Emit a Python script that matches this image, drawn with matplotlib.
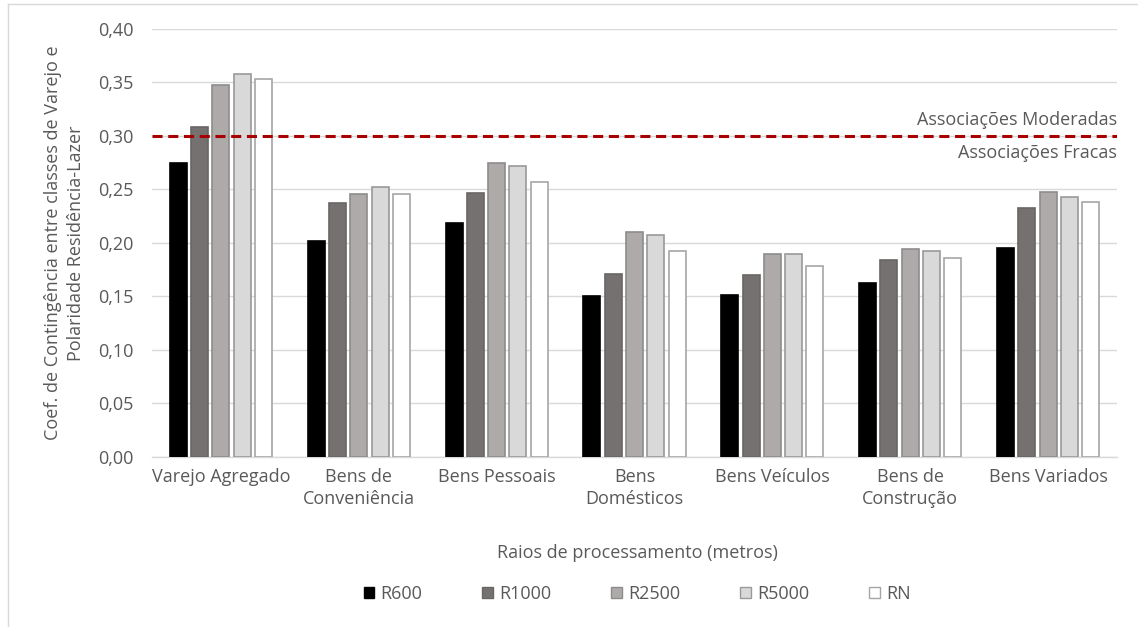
import matplotlib
matplotlib.use("Agg")
import matplotlib.pyplot as plt
from matplotlib.patches import Patch
from matplotlib.lines import Line2D
import numpy as np

plt.rcParams['font.family'] = ['Open Sans', 'DejaVu Sans']

categories = ["Varejo Agregado", "Bens de\nConveniência", "Bens Pessoais", "Bens\nDomésticos",
              "Bens Veículos", "Bens de\nConstrução", "Bens Variados"]
series_names = ["R600", "R1000", "R2500", "R5000", "RN"]
r600 = [0.275, 0.202, 0.219, 0.150, 0.151, 0.162, 0.195]
r1000 = [0.308, 0.237, 0.247, 0.171, 0.170, 0.184, 0.233]
r2500 = [0.348, 0.246, 0.275, 0.210, 0.190, 0.194, 0.248]
r5000 = [0.358, 0.252, 0.272, 0.207, 0.190, 0.192, 0.243]
rn = [0.353, 0.246, 0.257, 0.192, 0.178, 0.186, 0.238]
threshold = 0.30
y_ticks = [0.00, 0.05, 0.10, 0.15, 0.20, 0.25, 0.30, 0.35, 0.40]
y_tick_labels = ["0,00", "0,05", "0,10", "0,15", "0,20", "0,25", "0,30", "0,35", "0,40"]

series = [r600, r1000, r2500, r5000, rn]
fills = ["#000000", "#767171", "#AEAAAA", "#D9D9D9", "#FFFFFF"]
edges = ["#000000", "#6A6666", "#8C8C8C", "#999999", "#A6A6A6"]
text_color = "#595959"
fs = 13

W, H = 1138, 627
fig = plt.figure(figsize=(W / 100, H / 100), dpi=100)
ax = fig.add_axes([152 / W, 1 - 456.7 / H, (1117 - 152) / W, (456.7 - 29) / H])

x = np.arange(len(categories))
slot = 0.1545
bw = 0.123
for i, (vals, fc, ec) in enumerate(zip(series, fills, edges)):
    ax.bar(x + (i - 2) * slot, vals, width=bw, color=fc, edgecolor=ec,
           linewidth=1.2, zorder=3, label=series_names[i])

ax.set_xlim(-0.5, len(categories) - 0.5)
ax.set_ylim(0, 0.40)
ax.set_yticks(y_ticks)
ax.set_yticklabels(y_tick_labels)
ax.set_xticks(x)
ax.set_xticklabels(categories, linespacing=1.3)
ax.tick_params(axis='y', length=0, pad=13.5, labelsize=fs, labelcolor=text_color)
ax.tick_params(axis='x', length=0, pad=8, labelsize=fs, labelcolor=text_color)
ax.grid(axis='y', color="#D9D9D9", linewidth=1.0, zorder=0)
ax.set_axisbelow(True)
for s in ["top", "right", "left"]:
    ax.spines[s].set_visible(False)
ax.spines["bottom"].set_color("#D9D9D9")
ax.spines["bottom"].set_linewidth(1.0)

# threshold between weak and moderate associations
ax.axhline(threshold, color="#A80000", linewidth=2.2, linestyle=(0, (3.3, 1.85)), zorder=4)
ax.text(1.0, (456.7 - 120) / (456.7 - 29), "Associações Moderadas", transform=ax.transAxes,
        ha="right", va="center", fontsize=fs, color=text_color)
ax.text(1.0, (456.7 - 153) / (456.7 - 29), "Associações Fracas", transform=ax.transAxes,
        ha="right", va="center", fontsize=fs, color=text_color)

fig.text(64.5 / W, 1 - 243 / H,
         "Coef. de Contingência entre classes de Varejo e\nPolaridade Residência-Lazer",
         rotation=90, ha="center", va="center", fontsize=fs, color=text_color,
         multialignment="center", linespacing=1.3)
fig.text(637 / W, 1 - 553 / H, "Raios de processamento (metros)", ha="center", va="center",
         fontsize=fs, color=text_color)

handles = [Patch(facecolor=fc, edgecolor=ec, linewidth=1.0) for fc, ec in zip(fills, edges)]
fig.legend(handles, series_names, loc="center", bbox_to_anchor=(637 / W, 1 - 594 / H),
           ncol=5, frameon=False, fontsize=fs, labelcolor=text_color,
           handlelength=0.6, handleheight=0.6, handletextpad=0.35, columnspacing=3.3)

# outer chart frame (left and top edges)
fig.add_artist(Line2D([8 / W, 8 / W], [0, 1 - 4 / H], transform=fig.transFigure,
                      color="#D9D9D9", linewidth=1.0))
fig.add_artist(Line2D([8 / W, 1], [1 - 4 / H, 1 - 4 / H], transform=fig.transFigure,
                      color="#D9D9D9", linewidth=1.0))

fig.savefig("out.png", dpi=100, facecolor="white")
